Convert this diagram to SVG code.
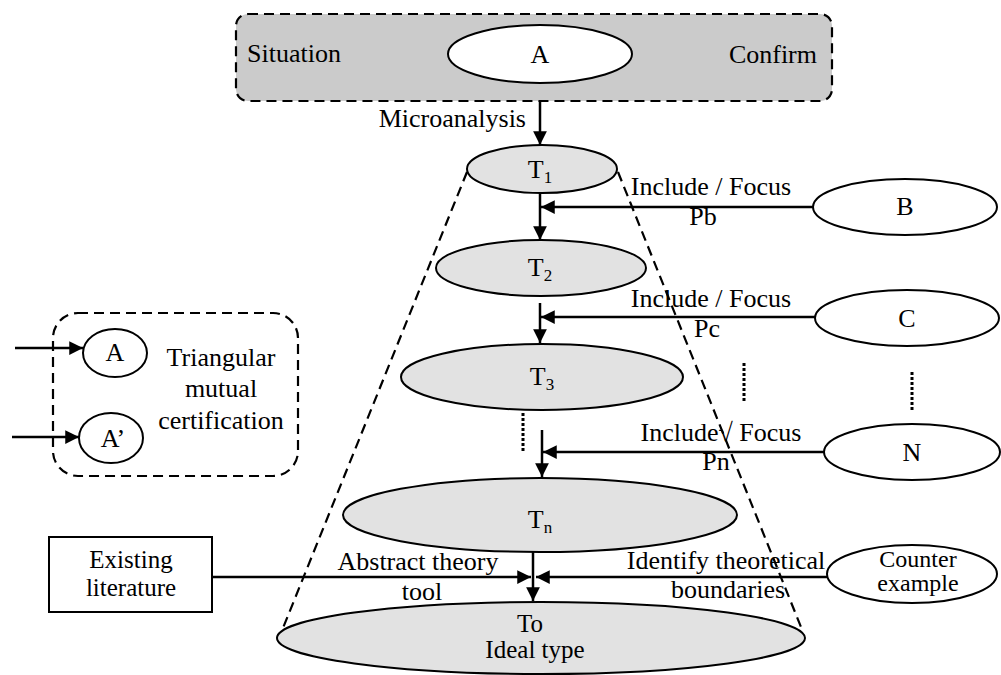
<svg xmlns="http://www.w3.org/2000/svg" width="1001" height="675" viewBox="0 0 1001 675" font-family="'Liberation Serif', 'DejaVu Serif', serif" font-size="26">
<defs>
<marker id="ah" viewBox="0 0 10 10" refX="10" refY="5" markerWidth="5.5" markerHeight="5.5" markerUnits="strokeWidth" orient="auto">
<path d="M0,0 L10,5 L0,10 z" fill="#000"/>
</marker>
<style>
text{font-family:'Liberation Serif','DejaVu Serif',serif;font-size:26px;fill:#000;text-anchor:middle}
.st{text-anchor:start}
.en{text-anchor:end}
.sub{font-size:17px}
.two{font-size:25px}
.ce{font-size:24px}
.t{fill:#e2e2e2;stroke:#000;stroke-width:2}
.w{fill:#fff;stroke:#000;stroke-width:2}
.dash{fill:none;stroke:#000;stroke-width:2.2;stroke-dasharray:10 6}
.arr{fill:none;stroke:#000;stroke-width:2.5;marker-end:url(#ah)}
.dot{fill:none;stroke:#000;stroke-width:3;stroke-dasharray:3 2}
</style>
</defs>
<rect width="1001" height="675" fill="#fff"/>

<g id="top-box">
<rect x="236" y="14" width="596" height="87" rx="12" fill="#cbcbcb" stroke="#000" stroke-width="2.2" stroke-dasharray="10 6"/>
<text class="st" x="247" y="62">Situation</text>
<text class="en" x="817" y="63">Confirm</text>
</g>
<g id="node-A">
<ellipse class="w" cx="540" cy="54" rx="92" ry="29"/>
<text x="540" y="63">A</text>
</g>

<g id="cone">
<line class="dash" x1="467" y1="172" x2="283" y2="628"/>
<line class="dash" x1="618" y1="172" x2="803" y2="632"/>
</g>

<g id="node-T1">
<ellipse class="t" cx="542" cy="169" rx="75" ry="24"/>
<text x="540" y="178">T<tspan class="sub" dy="5">1</tspan></text>
</g>
<g id="node-T2">
<ellipse class="t" cx="541" cy="268" rx="105" ry="28"/>
<text x="540" y="276">T<tspan class="sub" dy="5">2</tspan></text>
</g>
<g id="node-T3">
<ellipse class="t" cx="542" cy="377" rx="141" ry="33"/>
<text x="542" y="385">T<tspan class="sub" dy="5">3</tspan></text>
</g>
<g id="node-Tn">
<ellipse class="t" cx="540" cy="515" rx="197" ry="37"/>
<text x="540" y="528">T<tspan class="sub" dy="5">n</tspan></text>
</g>
<g id="node-To">
<ellipse class="t" cx="541" cy="638" rx="264" ry="36"/>
<text class="two" x="530" y="632">To</text>
<text class="two" x="535" y="658">Ideal type</text>
</g>

<g id="node-B">
<ellipse class="w" cx="905" cy="207" rx="92" ry="28"/>
<text x="905" y="215">B</text>
</g>
<g id="node-C">
<ellipse class="w" cx="907" cy="318" rx="92" ry="28"/>
<text x="907" y="327">C</text>
</g>
<g id="node-N">
<ellipse class="w" cx="912" cy="452" rx="88" ry="28"/>
<text x="912" y="461">N</text>
</g>
<g id="node-counter">
<ellipse class="w" cx="912" cy="574" rx="85" ry="29"/>
<text class="ce" x="918" y="567">Counter</text>
<text class="ce" x="918" y="591">example</text>
</g>
<g id="node-literature">
<rect x="49" y="537" width="163" height="75" fill="#fff" stroke="#000" stroke-width="2"/>
<text class="two" x="131" y="568">Existing</text>
<text class="two" x="131" y="596">literature</text>
</g>

<g id="triangulation">
<rect class="dash" x="53" y="313" width="245" height="163" rx="25"/>
<ellipse class="w" cx="115" cy="353" rx="32" ry="24"/>
<text x="115" y="361">A</text>
<ellipse class="w" cx="111" cy="438" rx="32" ry="25"/>
<text x="113" y="447">A’</text>
<text x="221" y="366">Triangular</text>
<text x="221" y="397">mutual</text>
<text x="221" y="429">certification</text>
</g>

<g id="connectors">
<line class="arr" x1="540" y1="101" x2="540" y2="145"/>
<line class="arr" x1="540" y1="193" x2="540" y2="240"/>
<line class="arr" x1="813" y1="207" x2="541" y2="207"/>
<line class="arr" x1="540" y1="303" x2="540" y2="343"/>
<line class="arr" x1="815" y1="317" x2="541" y2="317"/>
<line class="arr" x1="542" y1="430" x2="542" y2="477"/>
<line class="arr" x1="824" y1="452" x2="543" y2="452"/>
<line class="arr" x1="533" y1="552" x2="533" y2="601"/>
<line class="arr" x1="212" y1="577" x2="531" y2="577"/>
<line class="arr" x1="827" y1="577" x2="536" y2="577"/>
<line class="arr" x1="15" y1="348" x2="83" y2="348"/>
<line class="arr" x1="12" y1="437" x2="79" y2="437"/>
<line class="dot" x1="523" y1="413" x2="523" y2="453"/>
<line class="dot" x1="744" y1="363" x2="744" y2="403"/>
<line class="dot" x1="912" y1="372" x2="912" y2="412"/>
</g>

<g id="labels">
<text class="en" x="526" y="127">Microanalysis</text>
<text x="711" y="195">Include / Focus</text>
<text x="703" y="225">Pb</text>
<text x="711" y="307">Include / Focus</text>
<text x="707" y="337">Pc</text>
<text x="721" y="441">Include√ Focus</text>
<text x="716" y="470">Pn</text>
<text x="418" y="570">Abstract theory</text>
<text x="422" y="600">tool</text>
<text x="726" y="569">Identify theoretical</text>
<text x="728" y="598">boundaries</text>
</g>
</svg>
